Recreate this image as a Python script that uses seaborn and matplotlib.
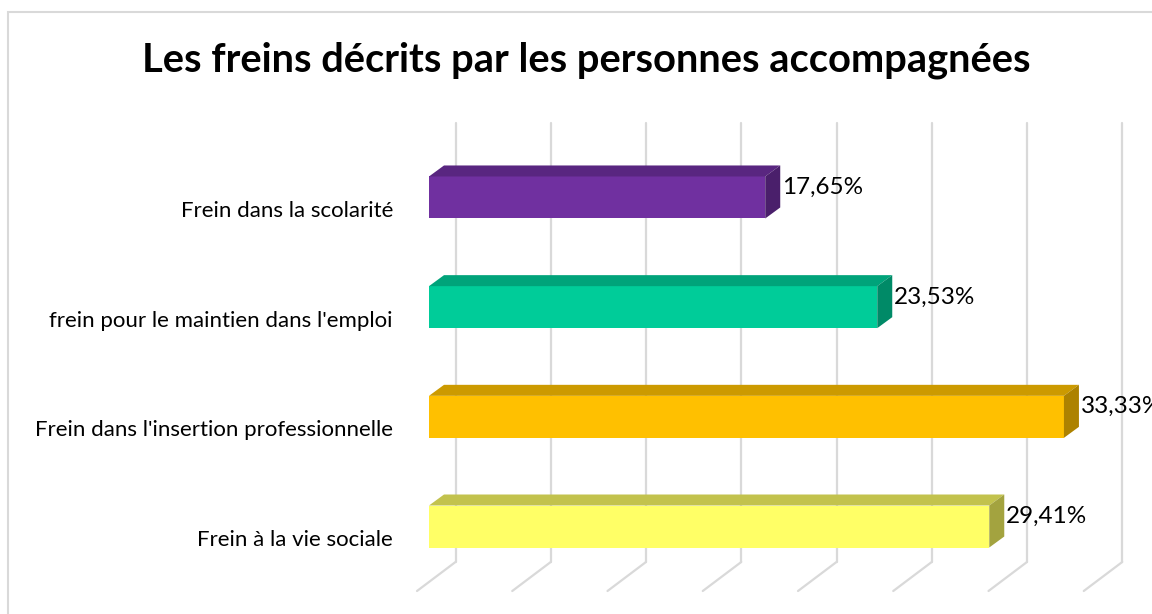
import numpy as np
import matplotlib
matplotlib.use("Agg")
import matplotlib.pyplot as plt
import matplotlib.transforms as mtransforms
from matplotlib.patches import Polygon, Rectangle
import seaborn as sns
import pandas as pd

categories = [
    "Frein dans la scolarité",
    "frein pour le maintien dans l'emploi",
    "Frein dans l'insertion professionnelle",
    "Frein à la vie sociale",
]
values = [17.65, 23.53, 33.33, 29.41]
front_colors = ["#7030A0", "#00CC99", "#FFC000", "#FFFF66"]
top_colors = ["#592680", "#00A37A", "#CC9A00", "#C2C24D"]
side_colors = ["#4A1F6B", "#008A67", "#AD8200", "#A3A33F"]
grid_ticks = list(range(0, 40, 5))

df = pd.DataFrame({"categorie": categories, "valeur": values})

sns.set_theme(style="white")
plt.rcParams["font.family"] = ["Lato", "DejaVu Sans"]

W, H = 1152, 614
fig = plt.figure(figsize=(W / 100, H / 100), dpi=100)

# axes placed so that 0 % sits at x=429 px, 19.05 px per %
px_per_pct = 19.05
x_left, y_top, y_bot = 429, 123, 591
xmax = 36
ax = fig.add_axes([x_left / W, (H - y_bot) / H,
                   xmax * px_per_pct / W, (y_bot - y_top) / H])

sns.barplot(data=df, x="valeur", y="categorie", hue="categorie",
            palette=front_colors, saturation=1, legend=False,
            orient="h", width=0.383, ax=ax, zorder=3,
            edgecolor="none")

ax.set_xlim(0, xmax)
ax.set_ylim(3.588, -0.679)
ax.set_xlabel("")
ax.set_ylabel("")
ax.set_xticks([])
for s in ax.spines.values():
    s.set_visible(False)
ax.patch.set_alpha(0)

# gridlines on the back wall with slanted floor lines
back_dx = 26.5 / 100
floor_back_y = (y_bot - 562) / (y_bot - y_top)
for t in grid_ticks:
    tr_back = mtransforms.blended_transform_factory(ax.transData, ax.transAxes) + \
        mtransforms.ScaledTranslation(back_dx, 0, fig.dpi_scale_trans)
    ax.plot([t, t], [1, floor_back_y], color="#D9D9D9", lw=1.6,
            transform=tr_back, clip_on=False, zorder=1)
    # slanted floor segment, drawn in pixels from the data x
    xb = ax.transData.transform((t, 0))[0] + 26.5
    yb = H - 562
    xf = ax.transData.transform((t, 0))[0] - 12
    yf = H - y_bot
    fig.add_artist(plt.Line2D([xb / W, xf / W], [yb / H, yf / H],
                              color="#D9D9D9", lw=1.6, zorder=1))

# 3D top and side faces from the bar patches
ddx, ddy = 15, 11
for i, p in enumerate(ax.patches):
    x0, y0 = p.get_x(), p.get_y()
    x1, y1 = x0 + p.get_width(), y0 + p.get_height()
    (lx, ty), (rx, by) = ax.transData.transform([(x0, y0), (x1, y1)])
    # y axis is inverted: y0 is top
    top = Polygon([(lx, ty), (rx, ty), (rx + ddx, ty + ddy), (lx + ddx, ty + ddy)],
                  closed=True, facecolor=top_colors[i], edgecolor="none",
                  transform=None, zorder=2)
    side = Polygon([(rx, ty), (rx + ddx, ty + ddy), (rx + ddx, by + ddy), (rx, by)],
                   closed=True, facecolor=side_colors[i], edgecolor="none",
                   transform=None, zorder=2)
    fig.add_artist(top)
    fig.add_artist(side)

# value labels
lab_tr = ax.transData + mtransforms.ScaledTranslation(0.17, 0.10, fig.dpi_scale_trans)
for i, v in enumerate(values):
    ax.text(v, i, f"{v:.2f}%".replace(".", ","), transform=lab_tr,
            ha="left", va="center", fontsize=17.5, color="black",
            zorder=5, clip_on=False)

# category labels, shifted down to the floor front
ax.tick_params(axis="y", length=0, pad=26, labelsize=16)
off = mtransforms.ScaledTranslation(0, -0.115, fig.dpi_scale_trans)
for lab in ax.get_yticklabels():
    lab.set_transform(lab.get_transform() + off)
    lab.set_color("black")

fig.text(586 / W, 1 - 60 / H, "Les freins décrits par les personnes accompagnées",
         ha="center", va="center", fontsize=28.7, fontweight="bold", color="black")

# chart frame
fig.add_artist(Rectangle((8 / W, -0.1), 1.2, (H - 12) / H + 0.1,
                         transform=fig.transFigure, fill=False,
                         edgecolor="#D9D9D9", lw=1.5, zorder=0))

fig.savefig("out.png", dpi=100)
